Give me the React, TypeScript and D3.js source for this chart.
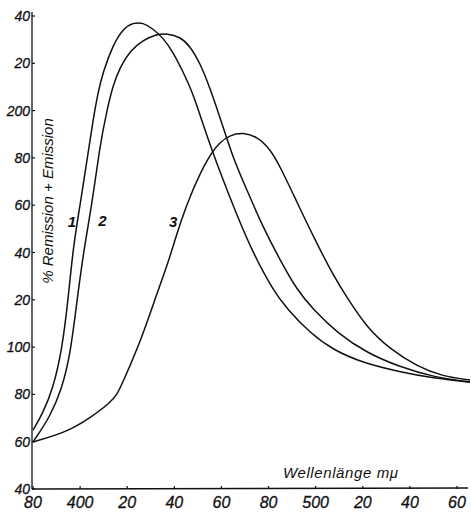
import React from "react";
import * as d3 from "d3";

const W = 471;
const H = 513;

const xTickValues = [380, 400, 420, 440, 460, 480, 500, 520, 540, 560];
const xTickLabels = ["80", "400", "20", "40", "60", "80", "500", "20", "40", "60"];
const yTickValues = [40, 60, 80, 100, 120, 140, 160, 180, 200, 220, 240];
const yTickLabels = ["40", "60", "80", "100", "20", "40", "60", "80", "200", "20", "40"];

const curve1X = [380, 384.2, 388.5, 392.3, 394.9, 397.0, 400.0, 403.3, 405.5, 407.6, 409.7, 414.0, 418.2, 422.5, 426.7, 430.9, 435.2, 439.4, 443.3, 447.9, 452.2, 456.4, 460.7, 466.6, 473.4, 481.9, 487.8, 497.6, 507.4, 520.1, 535.8, 549.8, 565.5];
const curve1Y = [64.9, 72.1, 82.5, 98.8, 119.9, 141.9, 160.2, 181.4, 196.0, 207.7, 216.2, 227.9, 234.6, 237.2, 237.2, 234.6, 230.8, 224.8, 217.2, 207.4, 194.1, 182.1, 170.7, 155.7, 139.8, 124.1, 116.2, 106.0, 98.8, 93.3, 89.5, 86.9, 85.2];

const curve2X = [380, 387.2, 392.3, 395.7, 397.8, 401.2, 405.0, 408.4, 411.4, 414.0, 416.9, 421.2, 426.7, 432.6, 436.9, 442.4, 446.6, 450.9, 455.1, 460.7, 464.9, 470.8, 477.6, 484.9, 492.1, 498.9, 509.1, 521.8, 535.8, 549.8, 565.5];
const curve2Y = [59.9, 70.4, 82.4, 96.7, 112.5, 139.1, 160.0, 185.3, 200.2, 210.8, 218.2, 225.3, 229.8, 232.3, 232.6, 231.2, 227.4, 220.1, 209.7, 193.1, 180.1, 166.4, 150.8, 136.8, 124.1, 116.0, 106.0, 97.5, 91.6, 87.4, 85.2];

const curve3X = [380, 394.4, 404.2, 412.7, 415.7, 418.2, 425.4, 432.6, 438.2, 442.4, 447.9, 453.9, 459.4, 463.6, 469.1, 475.1, 480.6, 484.9, 492.1, 498.9, 507.4, 513.3, 522.2, 531.5, 543.0, 554.0, 565.5];
const curve3Y = [59.9, 64.1, 70.0, 76.4, 79.9, 85.3, 101.7, 122.6, 138.1, 152.5, 166.9, 179.6, 186.8, 189.6, 190.8, 189.0, 183.8, 176.4, 161.2, 147.0, 130.4, 120.9, 107.7, 99.3, 91.8, 87.6, 86.1];

const seriesNames = ["1", "2", "3"];
const seriesLabelX = [396.5, 409.5, 439.5];
const seriesLabelY = [153, 153.5, 153];

export default function App() {
  const x = d3.scaleLinear().domain([380, 560]).range([33, 457]);
  const y = d3.scaleLinear().domain([40, 240]).range([489, 16]);

  const line = d3
    .line<[number, number]>()
    .x((d) => x(d[0]))
    .y((d) => y(d[1]))
    .curve(d3.curveBasis);

  const series = [
    curve1X.map((v, i) => [v, curve1Y[i]] as [number, number]),
    curve2X.map((v, i) => [v, curve2Y[i]] as [number, number]),
    curve3X.map((v, i) => [v, curve3Y[i]] as [number, number]),
  ];

  const axisX0 = 32;
  const axisY0 = 489;
  const font = "'Liberation Sans', Arial, sans-serif";

  return (
    <svg
      width={W}
      height={H}
      style={{ position: "absolute", left: 0, top: 0, background: "#fff" }}
      fontFamily={font}
    >
      <rect x={0} y={0} width={W} height={H} fill="#fff" />
      <line x1={axisX0} y1={12} x2={axisX0} y2={axisY0} stroke="#111" strokeWidth={1.3} />
      <line x1={axisX0} y1={axisY0} x2={468} y2={axisY0 - 1} stroke="#111" strokeWidth={1.3} />
      {yTickValues.map((v, i) => (
        <g key={"yt" + v}>
          <line x1={axisX0} x2={axisX0 + 3} y1={y(v)} y2={y(v)} stroke="#111" strokeWidth={1.2} />
          <text
            x={axisX0 - 2}
            y={y(v)}
            dy="0.36em"
            textAnchor="end"
            fontSize={14}
            fontStyle="italic"
            fill="#111"
            stroke="#111"
            strokeWidth={0.3}
          >
            {yTickLabels[i]}
          </text>
        </g>
      ))}
      {xTickValues.map((v, i) => (
        <g key={"xt" + v}>
          <line x1={x(v)} x2={x(v)} y1={axisY0} y2={axisY0 - 3} stroke="#111" strokeWidth={1.2} />
          <text
            x={x(v)}
            y={508}
            textAnchor="middle"
            fontSize={16}
            fontStyle="italic"
            fill="#111"
            stroke="#111"
            strokeWidth={0.3}
          >
            {xTickLabels[i]}
          </text>
        </g>
      ))}
      <text x={283} y={478} fontSize={15} fontStyle="italic" fill="#111" letterSpacing={0.6}>
        Wellenlänge   mμ
      </text>
      <text
        transform="translate(53,201) rotate(-90)"
        textAnchor="middle"
        fontSize={15}
        fontStyle="italic"
        fill="#111"
      >
        % Remission + Emission
      </text>
      {series.map((s, i) => (
        <path key={"s" + i} d={line(s) || ""} fill="none" stroke="#111" strokeWidth={1.5} />
      ))}
      {seriesNames.map((n, i) => (
        <text
          key={"lab" + n}
          x={x(seriesLabelX[i])}
          y={y(seriesLabelY[i])}
          dy="0.36em"
          textAnchor="middle"
          fontSize={15}
          fontStyle="italic"
          fontWeight="bold"
          fill="#111"
        >
          {n}
        </text>
      ))}
    </svg>
  );
}
